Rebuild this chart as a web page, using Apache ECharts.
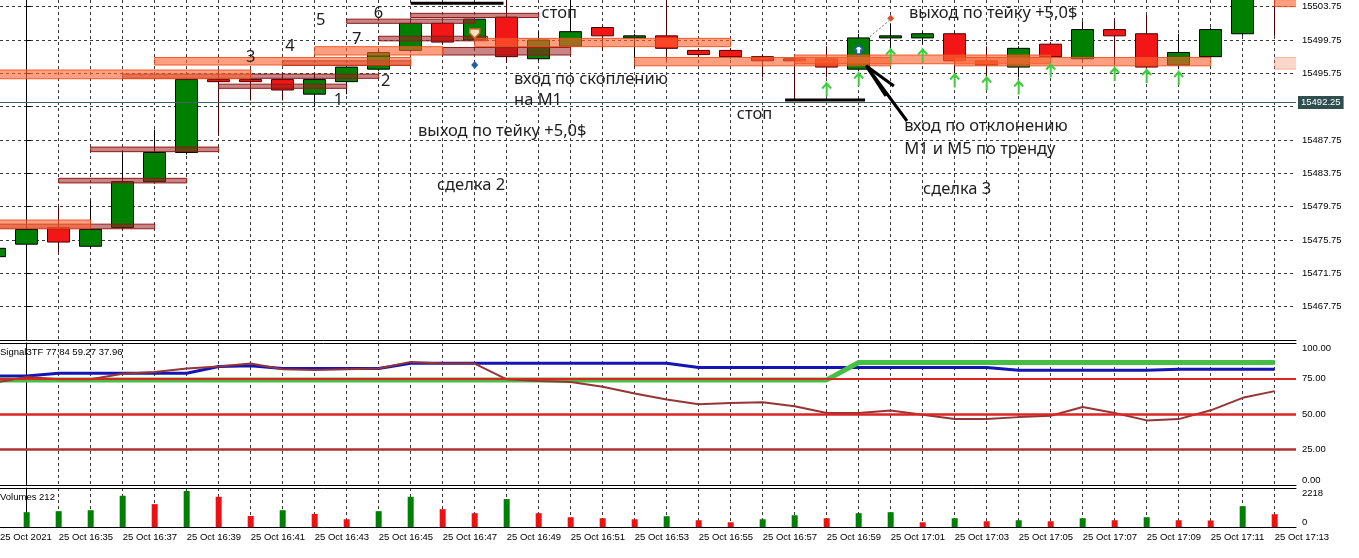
<!DOCTYPE html>
<html><head><meta charset="utf-8">
<script src="https://cdn.jsdelivr.net/npm/echarts@6/dist/echarts.min.js"></script>
<style>html,body{margin:0;padding:0;background:#fff}#c{width:1359px;height:558px}</style>
</head><body><div id="c"></div><script>
// ---------- DATA ----------
const times = ['16:33','16:34','16:35','16:36','16:37','16:38','16:39','16:40','16:41','16:42','16:43','16:44','16:45','16:46','16:47','16:48','16:49','16:50','16:51','16:52','16:53','16:54','16:55','16:56','16:57','16:58','16:59','17:00','17:01','17:02','17:03','17:04','17:05','17:06','17:07','17:08','17:09','17:10','17:11','17:12','17:13'];
const opens  = [15473.75,15475.25,15477.25,15475.00,15477.25,15482.75,15486.25,15495.00,15495.00,15495.00,15493.25,15494.75,15496.25,15498.50,15501.75,15499.75,15502.50,15497.50,15499.00,15501.25,15500.00,15500.25,15498.50,15498.50,15497.75,15497.50,15497.50,15496.25,15500.00,15500.00,15500.50,15497.25,15496.50,15499.25,15497.50,15501.00,15500.50,15496.75,15497.75,15500.50,15507.50];
const closes = [15474.75,15477.00,15475.50,15477.00,15482.75,15486.25,15495.00,15494.75,15494.75,15493.75,15495.00,15496.50,15498.25,15501.75,15499.50,15502.25,15497.75,15499.75,15500.75,15500.25,15500.25,15498.75,15498.00,15497.75,15497.25,15497.25,15496.50,15500.00,15500.25,15500.50,15497.25,15496.75,15498.75,15497.75,15501.00,15500.25,15496.50,15498.25,15501.00,15506.00,15506.00];
const lows   = [15473.50,15471.75,15474.25,15474.75,15477.00,15482.50,15486.00,15488.25,15492.50,15492.50,15491.75,15493.25,15496.00,15498.25,15499.25,15499.50,15497.00,15497.25,15498.75,15498.50,15496.50,15497.25,15497.75,15497.50,15495.25,15492.50,15495.25,15496.00,15498.50,15499.25,15495.50,15495.25,15495.25,15497.50,15497.25,15496.75,15496.25,15496.25,15497.50,15500.25,15500.25];
const highs  = [15475.00,15477.50,15479.75,15480.50,15486.25,15489.00,15495.25,15496.25,15496.25,15495.75,15495.75,15496.75,15498.50,15502.00,15502.00,15502.50,15505.00,15500.75,15505.00,15501.50,15500.50,15504.50,15498.75,15498.75,15498.00,15497.75,15499.00,15500.50,15501.75,15500.75,15500.75,15499.00,15499.00,15499.50,15502.00,15502.25,15502.75,15500.50,15501.25,15506.50,15508.00];
const volumes = [700,842,900,957,1776,1300,2046,1719,630,957,745,441,900,1719,1014,785,1587,785,556,499,441,613,384,269,441,670,499,785,842,269,499,327,384,327,499,384,556,384,370,1186,728];
const sigBlue  = [76.8,76.8,78.7,78.7,78.7,78.7,78.7,83.4,83.9,82.0,82.0,82.0,82.0,85.8,85.8,85.8,85.8,85.8,85.8,85.8,85.8,85.8,82.7,82.7,82.7,82.7,82.7,82.7,82.7,82.7,82.7,82.7,80.8,80.8,80.8,80.8,80.8,81.5,81.5,81.5,81.5];
const sigGreen = [74.0,74.0,74.0,74.0,74.0,74.0,74.0,74.0,74.0,74.0,74.0,74.0,74.0,74.0,74.0,74.0,74.0,74.0,74.0,74.0,74.0,74.0,74.0,74.0,74.0,74.0,74.0,86.3,86.3,86.3,86.3,86.3,86.3,86.3,86.3,86.3,86.3,86.3,86.3,86.3,86.3];
const sigBrown = [72.1,76.1,74.4,74.4,78.4,79.6,82.0,83.4,85.5,81.5,81.0,81.5,82.0,86.7,85.5,85.5,74.4,73.2,72.5,69.2,64.5,60.2,56.9,57.8,58.3,55.4,50.7,50.7,52.4,49.5,46.4,46.4,47.8,48.8,54.9,50.7,45.5,46.4,52.6,61.4,66.1];
const sigLevels = [75, 50, 25];
const priceTicks = {min: 15463.75, max: 15504.55, step: 4};
const bidPrice = 15492.25;
// zones: [fromBar, toBar, priceTop, priceBottom]
const orangeZones = [[-6,2,15478.15,15477.15],[-1,7,15496.15,15495.10],[4,12,15497.65,15496.75],[9,13,15498.95,15497.95],[14,22,15499.95,15498.95],[19,27,15497.65,15496.65],[24,32,15497.95,15496.90],[29,37,15497.65,15496.65],[39,41,15504.60,15503.75]];
const roseZones = [[-4,4,15477.65,15477.10],[1,5,15483.15,15482.60],[2,6,15486.90,15486.35],[3,11,15495.65,15495.15],[6,10,15494.45,15493.95],[8,12,15497.25,15496.70],[10,14,15502.25,15501.75],[12,16,15502.95,15502.45],[11,14.4,15500.20,15499.65],[13,17,15498.85,15497.95]];
const paleZones = [[39,41,15497.65,15496.25]];
// segments: [bar0, price0, bar1, price1, width, dashed]
const segments = [[12,15504.15,14.9,15504.15,3,0],[23.7,15492.55,26.2,15492.55,3,0],[26.23,15496.69,27.51,15490.03,3,0],[26.25,15496.6,27.1,15494.23,3,0],[26.28,15496.4,26.85,15493.03,3,0],[26.35,15500.15,26.95,15502.07,1,1]];
const upArrowBars   = [25,26,27,28,29,30,31,32,34,35,36];
const upArrowPrices = [15493.75,15494.95,15497.83,15497.83,15494.83,15494.47,15493.99,15496.03,15495.61,15495.37,15495.13];
const markerBars = [14,14,26,27];
const markerPrices = [15500.6,15496.75,15498.55,15502.35];
const markerKinds = [1,2,3,4];
const noteBars   = [16.09,15.23,15.23,12.23,12.82,22.19,27.57,27.42,27.42,28.01];
const notePrices = [15502.95,15495.07,15492.55,15488.75,15482.35,15490.87,15502.95,15489.35,15486.67,15481.83];
const noteTexts  = ['стоп','вход по скоплению','на М1','выход по тейку +5,0$','сделка 2','стоп','выход по тейку +5,0$','вход по отклонению','М1 и М5 по тренду','сделка 3'];
const digitBars   = [9.74,11.22,7.0,8.23,9.19,10.99,10.31];
const digitPrices = [15492.47,15494.83,15497.67,15499.03,15502.15,15502.95,15499.83];
const digitTexts  = ['1','2','3','4','5','6','7'];
const sigTitle = 'Signal3TF 77.84 59.27 37.96';
const volTitle = 'Volumes 212';
const dateLabel = '25 Oct 2021';
const dayPrefix = '25 Oct ';

// ---------- BUILD ----------
const FONT = "'Liberation Sans',Arial,sans-serif";
const NFONT = "'Noto Sans','Open Sans',sans-serif";
const XMIN = -0.834, XMAX = 39.666;
const barPos = times.map((t, k) => k - 1);
const candleData = barPos.map((x, k) => [x, opens[k], closes[k], lows[k], highs[k]]);
const volData = barPos.map((x, k) => ({value: [x, volumes[k]], itemStyle: {color: (k === 0 || volumes[k] > volumes[k-1]) ? '#008000' : '#ee1111'}}));
const lineData = arr => barPos.map((x, k) => [x, arr[k]]);

const gridSplit = {show: true, showMinLine: false, showMaxLine: false, lineStyle: {color: '#3a3a3a', type: [3, 3], width: 1}};
function xAx(gridIndex, opts) {
  return Object.assign({type: 'value', gridIndex, min: XMIN, max: XMAX, minInterval: 1, maxInterval: 1, splitNumber: 40,
    axisLine: {show: true, onZero: false, lineStyle: {color: '#000', width: 1}}, axisTick: {show: false},
    axisLabel: {show: false}, splitLine: gridSplit}, opts);
}
const timeFormatter = v => {
  if (v < -0.5) return dateLabel;
  const k = Math.round(v);
  if (Math.abs(v - k) > 1e-6) return '';
  return (k % 2 === 1) ? dayPrefix + times[k + 1] : '';
};

function rectSeries(data, fill, stroke, z) {
  return {type: 'custom', xAxisIndex: 0, yAxisIndex: 0, clip: true, z, silent: true,
    encode: {x: [0, 1], y: [2, 3]}, data,
    renderItem: (params, api) => {
      const a = api.coord([api.value(0), api.value(2)]);
      const b = api.coord([api.value(1), api.value(3)]);
      return {type: 'rect', shape: {x: a[0], y: a[1], width: b[0] - a[0], height: b[1] - a[1]},
        style: {fill, stroke, lineWidth: 1}};
    }};
}
function textSeries(xs, ps, texts, align, size) {
  return {type: 'custom', xAxisIndex: 0, yAxisIndex: 0, z: 10, silent: true,
    data: xs.map((x, k) => [x, ps[k]]),
    renderItem: (params, api) => {
      const c = api.coord([api.value(0), api.value(1)]);
      return {type: 'text', x: c[0], y: c[1], style: {text: texts[params.dataIndex], fill: '#1e1e1e',
        font: size + 'px ' + NFONT, align, verticalAlign: 'middle'}};
    }};
}

const option = {
  animation: false,
  backgroundColor: '#fff',
  title: [
    {text: sigTitle, left: 0, top: 347, padding: 0, textStyle: {fontSize: 9.5, fontWeight: 'normal', color: '#000', fontFamily: FONT}},
    {text: volTitle, left: 0, top: 492, padding: 0, textStyle: {fontSize: 9.5, fontWeight: 'normal', color: '#000', fontFamily: FONT}}
  ],
  grid: [
    {left: 0, right: 63, top: 0, height: 340, outerBoundsMode: 'none', containLabel: false},
    {left: 0, right: 63, top: 343, height: 142, outerBoundsMode: 'none', containLabel: false},
    {left: 0, right: 63, top: 488, height: 39, outerBoundsMode: 'none', containLabel: false}
  ],
  xAxis: [
    xAx(0, {}),
    xAx(1, {}),
    xAx(1, {position: 'top', splitLine: {show: false}}),
    xAx(2, {axisLabel: {show: true, formatter: timeFormatter, align: 'left', margin: 5, fontSize: 9.5, color: '#000', fontFamily: FONT, showMinLabel: true, showMaxLabel: false}}),
    xAx(2, {position: 'top', splitLine: {show: false}})
  ],
  yAxis: [
    {type: 'value', gridIndex: 0, position: 'right', min: priceTicks.min, max: priceTicks.max, interval: priceTicks.step,
      axisLine: {show: true, lineStyle: {color: '#000'}}, axisTick: {show: true, length: 4, lineStyle: {color: '#000'}},
      axisLabel: {formatter: v => v.toFixed(2), showMinLabel: false, showMaxLabel: false, margin: 6, fontSize: 9.5, color: '#000', fontFamily: FONT},
      splitLine: {show: true, showMinLine: false, showMaxLine: false, lineStyle: {color: '#3a3a3a', type: [3, 3], width: 1}}},
    {type: 'value', gridIndex: 1, position: 'right', min: 0, max: 100, interval: 25,
      axisLine: {show: true, lineStyle: {color: '#000'}}, axisTick: {show: true, length: 4, lineStyle: {color: '#000'}},
      axisLabel: {formatter: v => v.toFixed(2), margin: 6, fontSize: 9.5, color: '#000', fontFamily: FONT, verticalAlignMaxLabel: 'top', verticalAlignMinLabel: 'bottom'},
      splitLine: {show: false}},
    {type: 'value', gridIndex: 2, position: 'right', min: 0, max: 2218, interval: 2218,
      axisLine: {show: true, lineStyle: {color: '#000'}}, axisTick: {show: true, length: 4, lineStyle: {color: '#000'}},
      axisLabel: {formatter: v => String(Math.round(v)), margin: 6, fontSize: 9.5, color: '#000', fontFamily: FONT, verticalAlignMaxLabel: 'top', verticalAlignMinLabel: 'bottom'},
      splitLine: {show: false}}
  ],
  series: [
    {type: 'candlestick', xAxisIndex: 0, yAxisIndex: 0, barWidth: 22, z: 2, silent: true,
      encode: {x: 0, y: [1, 2, 3, 4]}, data: candleData,
      itemStyle: {color: '#008000', color0: '#f21616', borderColor: '#000', borderColor0: '#4a0000', borderWidth: 1},
      markLine: {symbol: 'none', silent: true, animation: false,
        data: [{yAxis: bidPrice}],
        lineStyle: {color: '#465f5f', type: 'solid', width: 1},
        label: {position: 'end', formatter: bidPrice.toFixed(2), color: '#fff', backgroundColor: '#2f4f4f', padding: [2, 3, 1, 3], fontSize: 9.5, fontFamily: FONT, distance: 2}}},
    rectSeries(roseZones, 'rgba(160,30,30,0.55)', '#8b1c1c', 3),
    rectSeries(orangeZones, 'rgba(255,100,50,0.62)', 'rgba(235,80,30,0.9)', 4),
    rectSeries(paleZones, 'rgba(255,120,80,0.3)', 'rgba(240,120,80,0.45)', 4),
    {type: 'custom', xAxisIndex: 0, yAxisIndex: 0, z: 6, silent: true, clip: true,
      encode: {x: [0, 2], y: [1, 3]}, data: segments,
      renderItem: (params, api) => {
        const a = api.coord([api.value(0), api.value(1)]);
        const b = api.coord([api.value(2), api.value(3)]);
        const dashed = api.value(5) === 1;
        return {type: 'line', shape: {x1: a[0], y1: a[1], x2: b[0], y2: b[1]},
          style: {stroke: dashed ? '#4f6f9f' : '#000', lineWidth: api.value(4), lineDash: dashed ? [2, 2] : null}};
      }},
    {type: 'custom', xAxisIndex: 0, yAxisIndex: 0, z: 7, silent: true,
      data: upArrowBars.map((x, k) => [x, upArrowPrices[k]]),
      renderItem: (params, api) => {
        const c = api.coord([api.value(0), api.value(1)]);
        const x = c[0], y = c[1];
        return {type: 'polyline', shape: {points: [[x - 4.5, y - 1.5], [x, y - 6.5], [x + 4.5, y - 1.5], [x, y - 6.5], [x, y + 6.5]]},
          style: {stroke: '#3fcc3f', lineWidth: 2, fill: null}};
      }},
    {type: 'custom', xAxisIndex: 0, yAxisIndex: 0, z: 8, silent: true,
      data: markerBars.map((x, k) => [x, markerPrices[k], markerKinds[k]]),
      renderItem: (params, api) => {
        const c = api.coord([api.value(0), api.value(1)]);
        const x = c[0], y = c[1], kind = api.value(2);
        if (kind === 1) return {type: 'polygon', shape: {points: [[x-5,y-4],[x+5,y-4],[x+5,y],[x,y+5],[x-5,y]]}, style: {fill: '#fbe3c8', stroke: '#e0662a', lineWidth: 1.5}};
        if (kind === 2) return {type: 'polygon', shape: {points: [[x,y-4],[x+3.5,y],[x,y+4],[x-3.5,y]]}, style: {fill: '#1f5fa8'}};
        if (kind === 3) return {type: 'polygon', shape: {points: [[x,y-5],[x+5,y],[x+2.2,y],[x+2.2,y+4],[x-2.2,y+4],[x-2.2,y],[x-5,y]]}, style: {fill: '#fff', stroke: '#1f5fa8', lineWidth: 1.6}};
        return {type: 'polygon', shape: {points: [[x,y-3.5],[x+3.5,y],[x,y+3.5],[x-3.5,y]]}, style: {fill: '#d9502a'}};
      }},
    textSeries(noteBars, notePrices, noteTexts, 'left', 16.5),
    textSeries(digitBars, digitPrices, digitTexts, 'center', 16.5),
    {type: 'line', xAxisIndex: 1, yAxisIndex: 1, data: lineData(sigBlue), symbol: 'none', silent: true, z: 2,
      lineStyle: {color: '#1515b5', width: 3}},
    {type: 'line', xAxisIndex: 1, yAxisIndex: 1, data: lineData(sigGreen), symbol: 'none', silent: true, z: 3,
      lineStyle: {color: '#45c045', width: 5}},
    {type: 'line', xAxisIndex: 1, yAxisIndex: 1, data: lineData(sigBrown), symbol: 'none', silent: true, z: 4,
      lineStyle: {color: '#953535', width: 2},
      markLine: {symbol: 'none', silent: true, label: {show: false},
        data: sigLevels.map((v, k) => ({yAxis: v, lineStyle: {color: k === 2 ? '#b03232' : '#dc2424', width: k === 0 ? 2 : 2.5, type: 'solid'}}))}},
    {type: 'bar', xAxisIndex: 3, yAxisIndex: 2, data: volData, barWidth: 6, silent: true}
  ]
};
const chart = echarts.init(document.getElementById('c'), null, {renderer: 'canvas'});
chart.setOption(option);
</script></body></html>
